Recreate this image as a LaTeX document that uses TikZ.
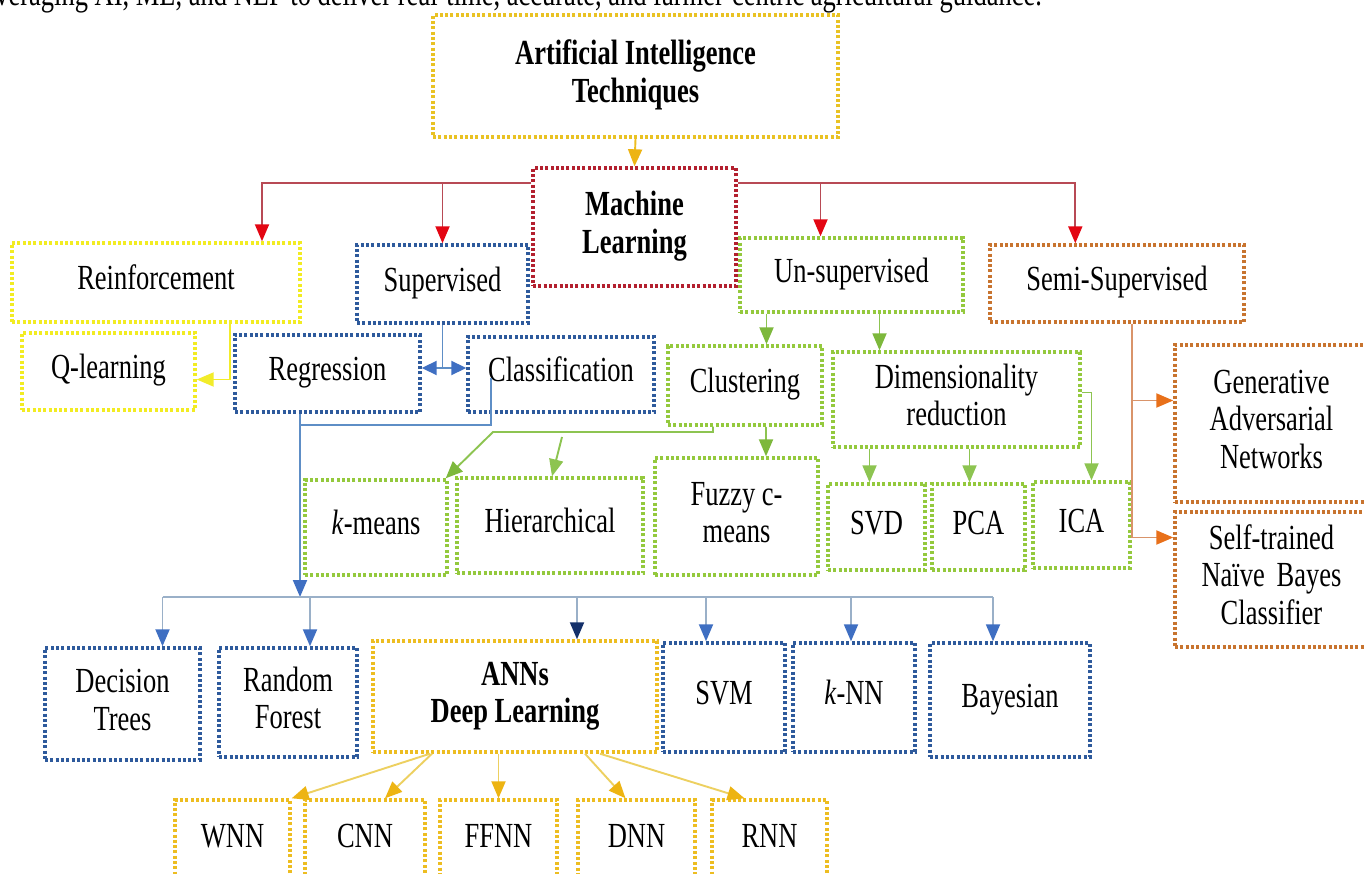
\documentclass[tikz,border=0pt]{standalone}
\usepackage{fontspec}
\setmainfont{Liberation Serif}
\usepackage{graphicx}
\usetikzlibrary{arrows.meta}

% box outline colours
\definecolor{cyel}{HTML}{E9C224}
\definecolor{cbright}{HTML}{F2EC22}
\definecolor{cmlred}{HTML}{B3202F}
\definecolor{cblue}{HTML}{2E5A9C}
\definecolor{cgreen}{HTML}{94C93D}
\definecolor{corange}{HTML}{C8742F}
\definecolor{cgold}{HTML}{EDBD21}
% connector colours
\definecolor{lred}{HTML}{B84A55}
\definecolor{ared}{HTML}{E30613}
\definecolor{lblue}{HTML}{5E8EC6}
\definecolor{ablue}{HTML}{3F6FC2}
\definecolor{lbus}{HTML}{9AB0C8}
\definecolor{anavy}{HTML}{14306A}
\definecolor{lgreen}{HTML}{8DC451}
\definecolor{agreen}{HTML}{7DB83C}
\definecolor{lor}{HTML}{D9946A}
\definecolor{aor}{HTML}{E8701A}
\definecolor{lgold}{HTML}{EDD060}
\definecolor{agold}{HTML}{EDB413}
\definecolor{lyq}{HTML}{F2EC2A}

\newcommand\txtfont{\fontsize{26.5}{28}\selectfont}
% text is set slightly tall, as in the printed figure
\newcommand\vs[1]{\scalebox{1}[1.33]{\begin{tabular}{@{}c@{}}#1\end{tabular}}}

\tikzset{
  bx/.style={draw=#1, line width=3.4pt, dash pattern=on 3pt off 2.3pt,
             fill=white, inner sep=0pt, align=center, font=\txtfont},
  con/.style={draw=#1, line width=1.9pt},
  tipto/.style={-{Triangle[width=14pt,length=17pt,color=#1]}},
}

\begin{document}
\begin{tikzpicture}[x=1pt,y=-1pt]
\useasboundingbox (0,0) rectangle (1364,874);
\clip (0,0) rectangle (1364,874);
\fill[white] (0,0) rectangle (1364,874);

% running text above the chart
\node[anchor=base east, inner sep=0pt, font=\txtfont] (cap) at (1042,6)
  {\scalebox{1}[1.33]{leveraging AI, ML, and NLP to deliver real-time, accurate, and farmer-centric agricultural guidance.}};

% ---------- boxes ----------
\node[bx=cyel, minimum width=405pt, minimum height=122pt] (ai) at (635.5,76)
  {\vs{\bfseries Artificial Intelligence\\\bfseries Techniques}};
\node[bx=cmlred, minimum width=203pt, minimum height=118pt] (ml) at (634.5,227)
  {\vs{\bfseries Machine\\\bfseries Learning}};

\node[bx=cbright, minimum width=288pt, minimum height=79pt] (rein) at (156,282.5) {\vs{Reinforcement}};
\node[bx=cblue, minimum width=171pt, minimum height=78pt] (sup) at (442.5,284) {\vs{Supervised}};
\node[bx=cgreen, minimum width=223pt, minimum height=74pt] (unsup) at (851.5,275) {\vs{Un-supervised}};
\node[bx=corange, minimum width=254pt, minimum height=77pt] (semi) at (1117,283.5) {\vs{Semi-Supervised}};

\node[bx=cbright, minimum width=173pt, minimum height=77pt] (ql) at (108.5,371.5) {\vs{Q-learning}};
\node[bx=cblue, minimum width=185pt, minimum height=77pt] (reg) at (327.5,373.5) {\vs{Regression}};
\node[bx=cblue, minimum width=186pt, minimum height=75pt] (cls) at (561,374.5) {\vs{Classification}};
\node[bx=cgreen, minimum width=154pt, minimum height=79pt] (clu) at (745,385.5) {\vs{Clustering}};
\node[bx=cgreen, minimum width=247pt, minimum height=95pt] (dim) at (956.5,399.5) {\vs{Dimensionality\\reduction}};

\node[bx=corange, minimum width=193pt, minimum height=157pt] (gan) at (1271.5,423.5) {\vs{Generative\\Adversarial\\Networks}};
\node[bx=corange, minimum width=193pt, minimum height=135pt] (st) at (1271.5,579.5) {\vs{Self-trained\\Naïve\hspace{0.45em}Bayes\\Classifier}};

\node[bx=cgreen, minimum width=142pt, minimum height=95pt] (km) at (376,527.5) {\vs{\textit{k}-means}};
\node[bx=cgreen, minimum width=186pt, minimum height=95pt] (hier) at (550,525.5) {\vs{Hierarchical}};
\node[bx=cgreen, minimum width=163pt, minimum height=117pt] (fz) at (736.5,516.5) {\vs{Fuzzy c-\\means}};
\node[bx=cgreen, minimum width=97pt, minimum height=86pt] (svd) at (876.5,527) {\vs{SVD}};
\node[bx=cgreen, minimum width=93pt, minimum height=86pt] (pca) at (978.5,527) {\vs{PCA}};
\node[bx=cgreen, minimum width=97pt, minimum height=86pt] (ica) at (1081.5,525) {\vs{ICA}};

\node[bx=cblue, minimum width=155pt, minimum height=112pt] (dt) at (122.5,704) {\vs{Decision\\Trees}};
\node[bx=cblue, minimum width=138pt, minimum height=109pt] (rf) at (288,702.5) {\vs{Random\\Forest}};
\node[bx=cgold, minimum width=284pt, minimum height=111pt] (ann) at (515,696.5)
  {\vs{\bfseries ANNs\\\bfseries Deep Learning}};
\node[bx=cblue, minimum width=122pt, minimum height=109pt] (svm) at (724,697.5) {\raisebox{9pt}{\vs{SVM}}};
\node[bx=cblue, minimum width=122pt, minimum height=109pt] (knn) at (854,697.5) {\vs{\textit{k}-NN}};
\node[bx=cblue, minimum width=160pt, minimum height=114pt] (bay) at (1010,700) {\vs{Bayesian}};

\node[bx=cgold, minimum width=115pt, minimum height=80pt] (wnn) at (232.5,840) {\raisebox{4pt}{\vs{WNN}}};
\node[bx=cgold, minimum width=120pt, minimum height=80pt] (cnn) at (365,840) {\raisebox{4pt}{\vs{CNN}}};
\node[bx=cgold, minimum width=117pt, minimum height=80pt] (ffnn) at (498.5,840) {\raisebox{4pt}{\vs{FFNN}}};
\node[bx=cgold, minimum width=117pt, minimum height=80pt] (dnn) at (636.5,840) {\raisebox{4pt}{\vs{DNN}}};
\node[bx=cgold, minimum width=115pt, minimum height=80pt] (rnn) at (769.5,840) {\raisebox{4pt}{\vs{RNN}}};

% ---------- junction points ----------
\coordinate (rbus) at (0,183);
\coordinate (bbus) at (0,597);
\coordinate (dbl) at (0,368);
\coordinate (bj) at (300,425);
\coordinate (gj) at (493,432);
\coordinate (gh) at (562,437);
\coordinate (ox) at ([xshift=15pt]semi.south);
\coordinate (og) at ([yshift=23pt]gan.west);
\coordinate (ot) at ([yshift=42pt]st.west);
\coordinate (cs) at ([xshift=-70pt,yshift=-3pt]cls.center);

% ---------- connectors ----------
% AI -> ML
\draw[con=cgold, tipto=agold] (ai.south) -- (ml.north);

% ML -> the four learning types
\draw[con=lred, tipto=ared] (ml.west |- rbus) -| ([xshift=106pt]rein.north);
\draw[con=lred, tipto=ared] (sup.north |- rbus) -- (sup.north);
\draw[con=lred, tipto=ared] (ml.east |- rbus) -| ([xshift=87pt]semi.north west);
\draw[con=lred, tipto=ared] ([xshift=-31pt]unsup.north |- rbus) -- ([xshift=-31pt]unsup.north);

% reinforcement -> Q-learning
\draw[con=lyq, tipto=lyq] ([xshift=74pt]rein.south) |- ([yshift=-8pt]ql.east);

% supervised -> regression / classification
\draw[con=lblue] (sup.south) -- (sup.south |- dbl);
\draw[con=lblue, {Triangle[width=14pt,length=15pt,color=ablue]}-{Triangle[width=14pt,length=15pt,color=ablue]}]
  (reg.east |- dbl) -- (cls.west |- dbl);

% regression / classification -> supervised algorithms
\draw[con=lblue] (cs) |- (bj);
\draw[con=lblue, tipto=ablue] (reg.south -| bj) -- (bj |- bbus);
\draw[con=lbus, line width=2.2pt] ([xshift=40pt]dt.north |- bbus) -- ([xshift=-17pt]bay.north |- bbus);
\draw[con=lbus, tipto=ablue] ([xshift=40pt]dt.north |- bbus) -- ([xshift=40pt]dt.north);
\draw[con=lbus, tipto=ablue] ([xshift=22pt]rf.north |- bbus) -- ([xshift=22pt]rf.north);
\draw[con=lbus, tipto=anavy] ([xshift=62pt]ann.north |- bbus) -- ([xshift=62pt]ann.north);
\draw[con=lbus, tipto=ablue] ([xshift=-18pt]svm.north |- bbus) -- ([xshift=-18pt]svm.north);
\draw[con=lbus, tipto=ablue] ([xshift=-3pt]knn.north |- bbus) -- ([xshift=-3pt]knn.north);
\draw[con=lbus, tipto=ablue] ([xshift=-17pt]bay.north |- bbus) -- ([xshift=-17pt]bay.north);

% un-supervised -> clustering / dimensionality reduction
\draw[con=lgreen, tipto=agreen] ([xshift=-85pt]unsup.south) -- ([xshift=-85pt]unsup.south |- clu.north);
\draw[con=lgreen, tipto=agreen] ([xshift=28pt]unsup.south) -- ([xshift=28pt]unsup.south |- dim.north);

% clustering -> its methods
\draw[con=lgreen, tipto=agreen] ([xshift=-32pt]clu.south) |- (gj) -- ([xshift=-3pt]km.north east);
\draw[con=lgreen, tipto=lgreen] (gh) -- ([xshift=2pt]hier.north);
\draw[con=lgreen, tipto=agreen] ([xshift=21pt]clu.south) -- ([xshift=21pt]clu.south |- fz.north);

% dimensionality reduction -> its methods
\draw[con=lgreen, tipto=lgreen] ([xshift=-7pt]svd.north |- dim.south) -- ([xshift=-7pt]svd.north);
\draw[con=lgreen, tipto=lgreen] ([xshift=-9pt]pca.north |- dim.south) -- ([xshift=-9pt]pca.north);
\draw[con=lgreen, tipto=lgreen] ([yshift=7pt]dim.east) -| ([xshift=10pt]ica.north);

% semi-supervised -> its methods
\draw[con=lor] (ox) -- (ox |- ot);
\draw[con=lor, tipto=aor] (ox |- og) -- (og);
\draw[con=lor, tipto=aor] (ox |- ot) -- (ot);

% ANNs -> network types
\draw[con=lgold, tipto=agold] ([xshift=-85pt]ann.south) -- (wnn.north east);
\draw[con=lgold, tipto=agold] ([xshift=-83pt]ann.south) -- ([xshift=20pt]cnn.north);
\draw[con=lgold, tipto=agold] (ffnn.north |- ann.south) -- (ffnn.north);
\draw[con=lgold, tipto=agold] ([xshift=70pt]ann.south) -- ([xshift=-11pt]dnn.north);
\draw[con=lgold, tipto=agold] ([xshift=85pt]ann.south) -- ([xshift=-25pt]rnn.north);
\end{tikzpicture}
\end{document}
